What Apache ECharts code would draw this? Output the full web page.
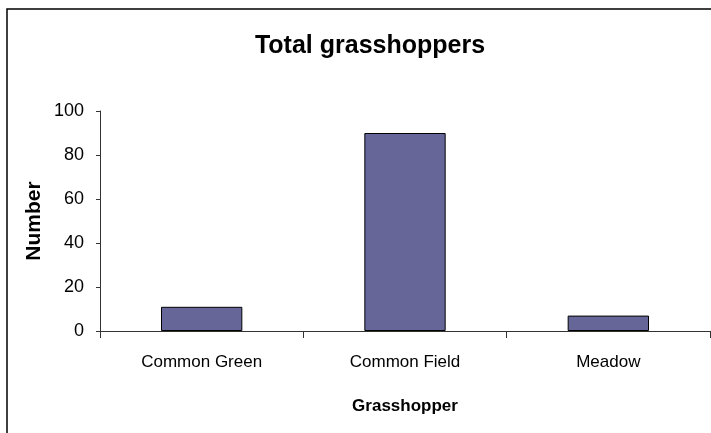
<!DOCTYPE html>
<html>
<head>
<meta charset="utf-8">
<script src="https://cdn.jsdelivr.net/npm/echarts@6/dist/echarts.min.js"></script>
<style>
  html, body { margin: 0; padding: 0; background: #fff; }
  #chart { width: 711px; height: 433px; }
</style>
</head>
<body>
<div id="chart"></div>
<script>
// data
const categories = ['Common Green', 'Common Field', 'Meadow'];
const counts = [11, 90, 7];
const yTicks = [0, 20, 40, 60, 80, 100];

const FONT = '"Liberation Sans", Arial, sans-serif';

const chart = echarts.init(document.getElementById('chart'));

const option = {
  animation: false,
  backgroundColor: '#fff',
  title: {
    text: 'Total grasshoppers',
    left: 365,
    top: 29,
    textAlign: 'center',
    textStyle: { fontFamily: FONT, fontWeight: 'bold', fontSize: 25, color: '#000' }
  },
  // outer chart frame (only left and top edges visible in the picture)
  graphic: [{
    type: 'rect',
    shape: { x: 7, y: 9, width: 800, height: 600 },
    style: { fill: null, stroke: '#000', lineWidth: 1.5 },
    silent: true
  }],
  grid: { left: 100, right: 1, top: 111, bottom: 102, containLabel: false },
  xAxis: {
    type: 'category',
    data: categories,
    name: 'Grasshopper',
    nameLocation: 'middle',
    nameGap: 67,
    nameTextStyle: { fontFamily: FONT, fontWeight: 'bold', fontSize: 17, color: '#000' },
    axisLine: { lineStyle: { color: '#333', width: 1 } },
    axisTick: { show: true, length: 7, lineStyle: { color: '#333' } },
    axisLabel: { margin: 23, fontFamily: FONT, fontSize: 17, color: '#000' }
  },
  yAxis: {
    type: 'value',
    min: yTicks[0],
    max: yTicks[yTicks.length - 1],
    interval: yTicks[1] - yTicks[0],
    name: 'Number',
    nameLocation: 'middle',
    nameGap: 55,
    nameMoveOverlap: false,
    nameTextStyle: { fontFamily: FONT, fontWeight: 'bold', fontSize: 21, color: '#000' },
    axisLine: { show: true, lineStyle: { color: '#333', width: 1 } },
    axisTick: { show: true, length: 4, lineStyle: { color: '#333' } },
    axisLabel: { margin: 16, fontFamily: FONT, fontSize: 18, color: '#000' },
    splitLine: { show: false }
  },
  series: [{
    type: 'bar',
    data: counts,
    barWidth: '40%',
    itemStyle: { color: '#666699', borderColor: '#000', borderWidth: 1 }
  }]
};

chart.setOption(option);
</script>
</body>
</html>
